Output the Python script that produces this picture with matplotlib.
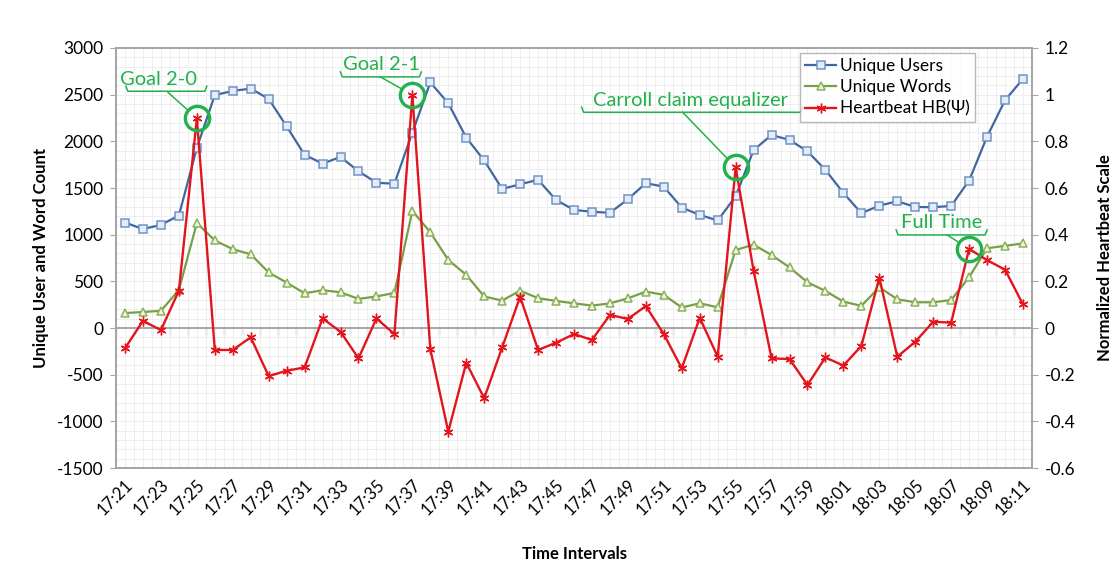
import numpy as np
import matplotlib
matplotlib.use("Agg")
import matplotlib.pyplot as plt
import matplotlib.transforms as mtransforms
from matplotlib.ticker import MultipleLocator

plt.rcParams['font.family'] = ['Lato', 'DejaVu Sans']
plt.rcParams['axes.unicode_minus'] = False

# time labels, one per minute 17:21 .. 18:11
times = [f"{17 + (21 + i) // 60}:{(21 + i) % 60:02d}" for i in range(51)]

users = [1130, 1060, 1105, 1205, 1930, 2496, 2540, 2565, 2455, 2160,
         1855, 1762, 1832, 1680, 1556, 1546, 2093, 2632, 2407, 2040,
         1795, 1490, 1540, 1588, 1372, 1265, 1246, 1234, 1380, 1552,
         1514, 1290, 1212, 1152, 1410, 1906, 2068, 2015, 1893, 1694,
         1447, 1230, 1311, 1358, 1297, 1294, 1308, 1580, 2050, 2440, 2670]

words = [160, 172, 184, 408, 1125, 938, 845, 790, 595, 487,
         372, 405, 383, 312, 338, 376, 1255, 1025, 729, 570,
         338, 294, 400, 320, 290, 265, 240, 264, 318, 390,
         355, 220, 265, 222, 836, 893, 782, 650, 490, 397,
         283, 237, 437, 308, 276, 276, 300, 545, 855, 880, 907]

heartbeat = [-0.087, 0.031, -0.009, 0.160, 0.899, -0.094, -0.094, -0.040, -0.206, -0.183,
             -0.169, 0.041, -0.016, -0.130, 0.041, -0.026, 0.999, -0.091, -0.444, -0.149,
             -0.301, -0.083, 0.134, -0.094, -0.063, -0.026, -0.051, 0.056, 0.039, 0.094,
             -0.026, -0.173, 0.044, -0.123, 0.689, 0.246, -0.130, -0.133, -0.244, -0.126,
             -0.161, -0.077, 0.216, -0.123, -0.059, 0.027, 0.023, 0.339, 0.291, 0.250, 0.101]

# callouts: label, point index, text offset, leader start, bracket x-range/y (pixels)
events = [
    ("Goal 2-0", 4, (-38, 39), (-29, 26), (-71, 10, 27)),
    ("Goal 2-1", 16, (-31, 30), (-32, 18), (-72, 9, 18)),
    ("Carroll claim equalizer", 34, (-45, 67), (-53, 55), (-154, 67, 55)),
    ("Full Time", 47, (-27, 26), (-22, 14), (-73, 18, 14)),
]

blue = '#41679f'
green = '#77a046'
red = '#e3141c'
callout_green = '#22b14c'
frame = '#a6a6a6'

x = np.arange(len(times))

fig = plt.figure(figsize=(11.2, 5.68), dpi=100)
ax = fig.add_axes([0.1036, 0.176, 0.8178, 0.7395])
ax2 = ax.twinx()

ax.axhline(0, color=frame, lw=1.4, zorder=1)
ax.plot(x, users, '-s', color=blue, lw=1.6, ms=6, mfc='#e6ecf6', mec='#6f94c9',
        mew=1.1, label='Unique Users', zorder=3)
ax.plot(x, words, '-^', color=green, lw=1.6, ms=6, mfc='#eef4e4', mec='#8cb35a',
        mew=1.1, label='Unique Words', zorder=3)
ax2.plot(x, heartbeat, '-', color=red, lw=1.7, marker=(6, 2, 0), ms=7,
         mec=red, mew=1.0, label='Heartbeat HB(\u03a8)', zorder=3)

ax.set_xlim(-0.5, len(times) - 0.5)
ax.set_ylim(-1500, 3000)
ax2.set_ylim(-0.6, 1.2)
ax.set_yticks(np.arange(-1500, 3001, 500))
hb_ticks = np.round(np.arange(-0.6, 1.21, 0.2), 1)
ax2.set_yticks(hb_ticks)
ax2.set_yticklabels([f"{v:g}" for v in hb_ticks])

ax.set_xticks(x[::2])
ax.set_xticklabels(times[::2], rotation=45, ha='right', va='top',
                   rotation_mode='anchor', fontsize=12)
ax.tick_params(axis='x', length=0, pad=6)
ax.tick_params(axis='y', labelsize=12.5, length=4, color=frame, pad=5)
ax2.tick_params(axis='y', labelsize=12.5, length=4, color=frame, pad=5)

# light grid
ax.set_xticks(np.arange(-0.5, len(times), 0.5), minor=True)
ax.yaxis.set_minor_locator(MultipleLocator(100))
ax.tick_params(which='minor', length=0)
ax.grid(True, which='both', color='#eeeeee', lw=0.7, zorder=0)
ax.set_axisbelow(True)

for a in (ax, ax2):
    for s in a.spines.values():
        s.set_color(frame)
        s.set_linewidth(1.3)

# tick marks between categories on the zero line
zero_axis = ax.secondary_xaxis(1500 / 4500)
zero_axis.set_xticks(np.arange(-0.5, len(times), 1.0))
zero_axis.tick_params(length=5, direction='out', color=frame, labelbottom=False,
                      width=1.0)
zero_axis.spines['bottom'].set_visible(False)

ax.set_ylabel('Unique User and Word Count', fontsize=12, fontweight='bold', labelpad=6)
ax2.set_ylabel('Normalized Heartbeat Scale', fontsize=12, fontweight='bold', labelpad=16)
ax.set_xlabel('Time Intervals', fontsize=12, fontweight='bold', labelpad=20)

# callouts around the heartbeat peaks
peak_idx = [e[1] for e in events]
ax2.plot(peak_idx, [heartbeat[i] for i in peak_idx], 'o', ms=17.5, mfc='none',
         mec=callout_green, mew=2.4, zorder=4)
for label, i, toff, loff, (bx0, bx1, by) in events:
    ax2.annotate(label, xy=(i, heartbeat[i]), xytext=toff, textcoords='offset pixels',
                 ha='center', va='center', fontsize=14.5, color=callout_green, zorder=5)
    ax2.annotate('', xy=(i, heartbeat[i]), xytext=loff, textcoords='offset pixels',
                 arrowprops=dict(arrowstyle='-', color=callout_green, lw=1.1,
                                 shrinkA=0, shrinkB=9), zorder=5)
    tr = mtransforms.ScaledTranslation(i, heartbeat[i], ax2.transData)
    ax2.plot([bx0, bx0 + 2, bx1 - 2, bx1], [by + 5, by, by, by + 5],
             color=callout_green, lw=1.1, transform=tr, zorder=5, clip_on=False)

h1, l1 = ax.get_legend_handles_labels()
h2, l2 = ax2.get_legend_handles_labels()
leg = ax2.legend(h1 + h2, l1 + l2, loc='upper left', bbox_to_anchor=(0.7467, 0.988),
                 fontsize=12.5, frameon=True, fancybox=False, edgecolor=frame,
                 handlelength=1.8, handletextpad=0.2, borderpad=0.3, labelspacing=0.3,
                 borderaxespad=0)
leg.get_frame().set_linewidth(1.0)

fig.savefig('out.png', dpi=100)
